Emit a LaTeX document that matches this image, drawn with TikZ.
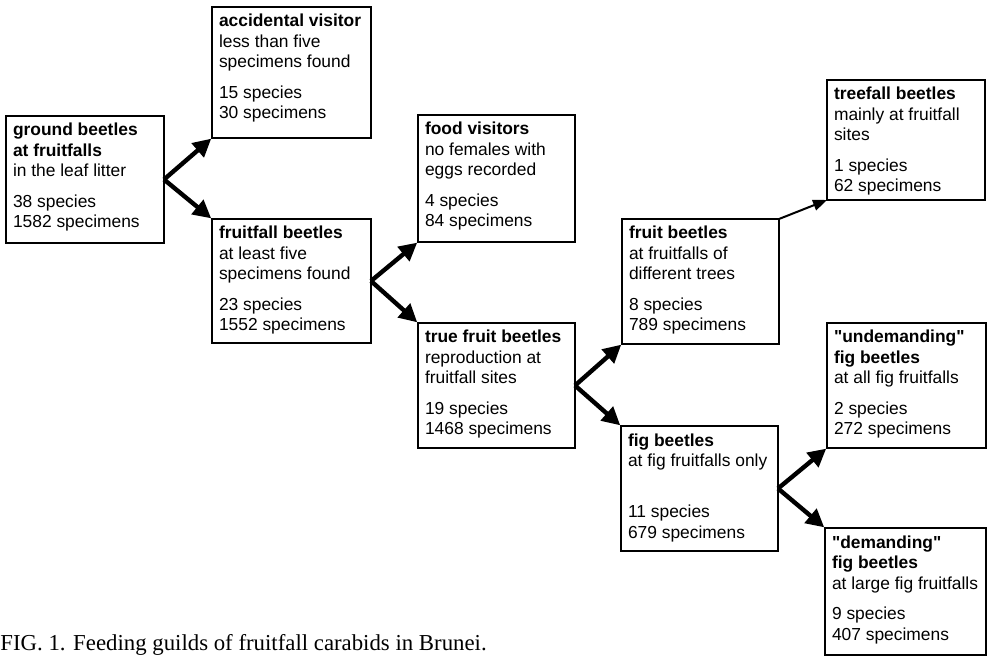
\documentclass[tikz,border=0pt]{standalone}
\usepackage{fontspec}
\setmainfont{Liberation Sans}[Ligatures=TeXOff]
\newfontfamily\capfont{Liberation Serif}
\usetikzlibrary{arrows.meta}
\newcommand{\bxc}[3]{\parbox[c][\dimexpr#2pt/2\relax][t]{\dimexpr(#1pt-14pt)/2\relax}{\raggedright\rule{0pt}{10pt}#3}}
\newcommand{\sq}{{\char34}}
\tikzset{
  gbox/.style={draw=black, line width=0.6pt, anchor=north west, inner xsep=3.5pt, inner ysep=0pt, outer sep=0pt,
    font={\fontsize{8.7}{10.25}\selectfont}},
  bigarrow/.style={line width=2.2pt, -{Triangle[length=9pt,width=9pt]}, shorten >=0.5pt},
  thinarrow/.style={line width=1pt, -{Triangle[length=7pt,width=5.5pt]}}
}
\begin{document}
\begin{tikzpicture}[x=0.5pt,y=-0.5pt]
\useasboundingbox (0,0) rectangle (988,656);
\node[gbox] (ground) at (6,116) {\bxc{158}{127}{\textbf{ground beetles}\\\textbf{at fruitfalls}\\in the leaf litter\\[5pt]38 species\\1582 specimens}};
\node[gbox] (accidental) at (212,7) {\bxc{159}{131}{\textbf{accidental visitor}\\less than five\\specimens found\\[5pt]15 species\\30 specimens}};
\node[gbox] (fruitfall) at (212,219) {\bxc{159}{124}{\textbf{fruitfall beetles}\\at least five\\specimens found\\[5pt]23 species\\1552 specimens}};
\node[gbox] (food) at (418,115) {\bxc{157}{127}{\textbf{food visitors}\\no females with\\eggs recorded\\[5pt]4 species\\84 specimens}};
\node[gbox] (truefruit) at (418,323) {\bxc{157}{125}{\textbf{true fruit beetles}\\reproduction at\\fruitfall sites\\[5pt]19 species\\1468 specimens}};
\node[gbox] (fruit) at (622,219) {\bxc{157}{125}{\textbf{fruit beetles}\\at fruitfalls of\\different trees\\[5pt]8 species\\789 specimens}};
\node[gbox] (treefall) at (827,80) {\bxc{158}{120}{\textbf{treefall beetles}\\mainly at fruitfall\\sites\\[5pt]1 species\\62 specimens}};
\node[gbox] (undemanding) at (827,323) {\bxc{159}{125}{\textbf{\sq undemanding\sq}\\\textbf{fig beetles}\\at all fig fruitfalls\\[5pt]2 species\\272 specimens}};
\node[gbox] (fig) at (621,426) {\bxc{157}{125}{\textbf{fig beetles}\\at fig fruitfalls only\\[15.25pt]11 species\\679 specimens}};
\node[gbox] (demanding) at (825,528) {\bxc{161}{127}{\textbf{\sq demanding\sq}\\\textbf{fig beetles}\\at large fig fruitfalls\\[5pt]9 species\\407 specimens}};
\draw[bigarrow] (ground.east) -- (accidental.south west);
\draw[bigarrow] (ground.east) -- (fruitfall.north west);
\draw[bigarrow] (fruitfall.east) -- (food.south west);
\draw[bigarrow] (fruitfall.east) -- (truefruit.north west);
\draw[bigarrow] (truefruit.east) -- (fruit.south west);
\draw[bigarrow] (truefruit.east) -- (fig.north west);
\draw[bigarrow] (fig.east) -- (undemanding.south west);
\draw[bigarrow] (fig.east) -- (demanding.north west);
\draw[thinarrow] (fruit.north east) -- (treefall.south west);
\node[anchor=base west, inner sep=0pt, font={\capfont\fontsize{11.4}{13}\selectfont}] (caption) at (0,650) {FIG. 1. Feeding guilds of fruitfall carabids in Brunei.};
\end{tikzpicture}
\end{document}
